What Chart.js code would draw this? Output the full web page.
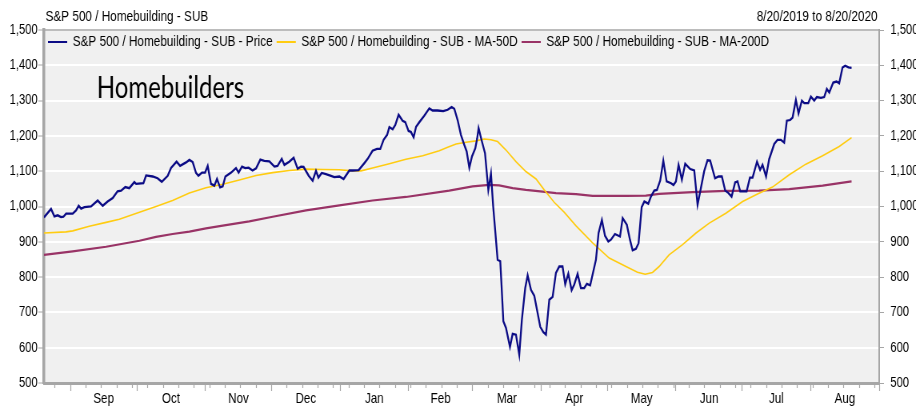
<!DOCTYPE html>
<html><head><meta charset="utf-8">
<script src="https://cdn.jsdelivr.net/npm/chart.js@4.4.1/dist/chart.umd.min.js"></script>
<style>html,body{margin:0;padding:0;background:#fff;overflow:hidden}</style>
</head><body>
<canvas id="c" width="1145" height="407" style="display:block;width:916px;height:407px"></canvas>
<script>
// ---------- DATA ----------
const chartTitle = 'S&P 500 / Homebuilding - SUB';
const dateRangeText = '8/20/2019 to 8/20/2020';
const annotationText = 'Homebuilders';
const seriesNames = ['S&P 500 / Homebuilding - SUB - Price', 'S&P 500 / Homebuilding - SUB - MA-50D', 'S&P 500 / Homebuilding - SUB - MA-200D'];
// x values are calendar days since 8/20/2019
const monthLabels = ['Sep','Oct','Nov','Dec','Jan','Feb','Mar','Apr','May','Jun','Jul','Aug'];
const monthStartDays = [12,42,73,103,134,165,194,225,255,286,316,347,378];
const firstSundayDay = 5;
const xMinDay = 0, xMaxDay = 378;
const yMin = 500, yMax = 1500, yStep = 100;

const priceDays = [0,3.2,4.7,6.2,7.7,8.8,10,13,14.5,15.7,16.8,18.3,21.3,24.3,26.6,28.8,31.1,33.3,34.9,36.8,38.6,40.9,41.7,45,46.2,49.2,51.4,53.3,56,57.5,60,61.6,64.3,65.8,67.3,68.8,69.9,71.5,72.9,74.1,75.6,77.1,78.3,79.7,80.9,82.1,84.7,86.9,88.1,89.6,91.1,92.6,94.4,96,97.9,99.7,102,104.3,105.7,107.6,108.8,111,113,114.8,116.3,117.5,119.8,121.6,123.1,124.2,125.7,127.6,129.9,131.4,133.7,135.6,138.2,139.7,142.4,145,146.5,148.7,150.7,152.2,153.7,155.3,156.3,157.8,159,160.5,162.3,163.5,165,166.1,167.3,168.4,169.9,172.1,174.4,175.9,178.1,180.7,182.7,184.5,185.7,187.2,188.7,190.2,191.3,192.5,193.7,195.2,196,196.7,198,199.6,201.1,202.3,203.3,204.3,205.3,206.5,207.1,207.9,209.1,210.9,212.1,213.6,215.1,216.3,217.8,218.9,220.4,221.9,223.1,224.6,226,227.2,228.7,230.2,231.7,233.2,234.7,235.9,237.3,238.8,240,241.5,243,244.5,245.7,247.2,249.8,251,252.5,253.9,255.4,256.6,258.4,260.7,261.9,263.8,265.2,266.4,267.9,269.1,270.5,271.7,273.5,274.7,276.2,277.4,278.9,280.3,281.8,283.8,284.9,286,287.2,288.7,290.2,292.5,294.3,295.8,297.3,298.8,300.3,301.5,303.7,305.3,306.8,308.3,309.8,311.2,312.8,313.9,315.1,318,319.5,320.7,322.7,324.1,325.2,326.8,328.2,330.5,332,333.5,335,336.2,337.7,338.8,340.3,341.5,343,344.1,345.9,347.1,348.6,349.8,351.6,353.1,354.3,355.4,357.2,358.7,359.9,361.4,362.6,364.1,365.5];
const priceValues = [969,993,972,975,970,971,980,980,989,1002,994,998,1000,1017,1002,1014,1024,1043,1045,1055,1052,1069,1064,1066,1088,1085,1080,1070,1087,1109,1127,1115,1125,1132,1126,1095,1087,1096,1096,1115,1064,1059,1078,1054,1057,1085,1096,1109,1096,1113,1109,1110,1102,1108,1133,1129,1128,1113,1115,1135,1118,1127,1138,1107,1113,1112,1087,1073,1101,1082,1095,1092,1087,1083,1085,1078,1102,1102,1103,1123,1135,1158,1163,1163,1189,1203,1225,1219,1231,1260,1243,1239,1214,1211,1196,1226,1239,1257,1278,1272,1272,1270,1274,1282,1277,1245,1203,1175,1156,1110,1142,1165,1191,1222,1189,1151,1047,1093,1000,925,849,845,774,675,656,602,639,637,580,680,769,805,764,747,708,659,644,637,736,744,812,830,830,780,810,763,779,809,769,769,781,777,849,925,962,917,901,906,922,915,967,948,906,876,880,896,998,1014,1008,1028,1045,1047,1074,1130,1071,1066,1061,1071,1118,1076,1121,1106,1102,1005,1052,1100,1131,1130,1080,1085,1085,1045,1038,1028,1068,1071,1043,1043,1082,1082,1127,1104,1118,1085,1134,1177,1189,1189,1181,1243,1245,1252,1302,1264,1300,1293,1293,1311,1300,1310,1308,1310,1333,1323,1351,1354,1349,1394,1399,1394,1393];

const ma50Days = [0,10,13,20.5,28.1,34.1,43.2,50.7,58.2,65.8,73.3,80.9,88.4,96,103.5,111,118.6,126.1,133.7,139.7,143.5,148.7,156.3,163.8,171.4,178.9,182.7,186.5,191,195.5,199.3,202.3,205.3,209.1,213.6,218.1,222.7,226.4,230.9,235.4,240.8,248.3,255.8,263.4,268.6,272.1,275.4,278.4,282.9,289,295.1,301.1,308.6,316.2,322.7,329.7,337.3,344.8,352.4,359.9,365.5];
const ma50Values = [925,928,931,944,955,964,984,1000,1017,1038,1053,1063,1075,1088,1096,1102,1106,1105,1104,1101,1101,1109,1121,1134,1144,1158,1168,1177,1182,1186,1191,1189,1184,1160,1127,1099,1078,1047,1012,984,945,897,854,830,814,808,813,830,863,892,925,953,981,1014,1035,1055,1090,1120,1144,1170,1195];

const ma200Days = [0,13,28.1,43.2,50.7,58.2,65.8,73.3,80.9,92.9,103.5,118.6,133.7,148.7,163.8,183.4,194,201.5,206,212.1,218.1,224.6,231.7,240.8,248.3,263.4,272.4,278.4,293.5,308.6,323.7,337.3,352.4,365.5];
const ma200Values = [863,873,886,903,914,922,929,938,946,958,971,989,1003,1017,1027,1045,1057,1061,1060,1052,1047,1043,1038,1035,1030,1030,1031,1036,1041,1044,1045,1049,1059,1071];

// ---------- STYLE ----------
// The canvas is drawn 1145px wide and displayed 916px wide (horizontally condensed look of the original).
const FONT = "'Liberation Sans', Arial, sans-serif";
const colors = ['#0b0b85', '#ffcc11', '#993366'];
const widths = [2.3, 1.6, 2.2];
const axisGray = '#a6a6a6';

const toPts = (xs, ys) => xs.map((d, i) => ({x: d, y: ys[i]}));

// build x ticks: month boundaries (major), weekly Sundays (minor), mid-month (labels)
const xTickDefs = [];
monthStartDays.forEach(d => xTickDefs.push({value: d, kind: 'major'}));
for (let d = firstSundayDay; d <= xMaxDay; d += 7) {
  if (!monthStartDays.includes(d)) xTickDefs.push({value: d, kind: 'minor'});
}
monthLabels.forEach((m, i) => xTickDefs.push({value: (monthStartDays[i] + monthStartDays[i + 1]) / 2, kind: 'label', label: m}));
xTickDefs.sort((a, b) => a.value - b.value);
const tickKind = v => (xTickDefs.find(t => t.value === v) || {}).kind;

const decor = {
  id: 'decor',
  beforeDraw(chart) {
    const {ctx, chartArea: a} = chart;
    ctx.save();
    ctx.fillStyle = '#f0f0f0';
    ctx.fillRect(a.left, a.top, a.right - a.left, a.bottom - a.top);
    ctx.restore();
  },
  afterDraw(chart) {
    const {ctx, chartArea: a} = chart;
    ctx.save();
    ctx.strokeStyle = axisGray;
    ctx.lineWidth = 1.5;
    ctx.beginPath();
    ctx.moveTo(a.left, a.top); ctx.lineTo(a.right, a.top);
    ctx.stroke();
    ctx.fillStyle = '#000';
    ctx.textBaseline = 'middle';
    ctx.font = "14.7px " + FONT;
    ctx.textAlign = 'left';
    ctx.fillText(chartTitle, a.left + 2, 17);
    ctx.textAlign = 'right';
    ctx.fillText(dateRangeText, a.right - 2, 17);
    // legend row inside the plot area
    ctx.textAlign = 'left';
    let x = a.left + 5;
    const ly = a.top + 12;
    chart.data.datasets.forEach(ds => {
      ctx.fillStyle = ds.borderColor;
      ctx.fillRect(x, ly - 1, 24, 2);
      x += 31;
      ctx.fillStyle = '#000';
      ctx.fillText(ds.label, x, ly);
      x += ctx.measureText(ds.label).width + 5;
    });
    ctx.font = "30px Lato, 'Liberation Sans', sans-serif";
    ctx.fillText(annotationText, 121, 88);
    ctx.restore();
  }
};

new Chart(document.getElementById('c'), {
  type: 'line',
  data: {
    datasets: [
      {label: seriesNames[0], data: toPts(priceDays, priceValues), order: 1},
      {label: seriesNames[1], data: toPts(ma50Days, ma50Values), order: 2},
      {label: seriesNames[2], data: toPts(ma200Days, ma200Values), order: 3}
    ].map((d, i) => Object.assign(d, {borderColor: colors[i], backgroundColor: colors[i], borderWidth: widths[i], pointRadius: 0, tension: 0, fill: false}))
  },
  options: {
    responsive: false, animation: false, devicePixelRatio: 1,
    layout: {padding: {top: 30, left: 0, right: 0, bottom: 0}},
    plugins: {
      tooltip: {enabled: false},
      title: {display: false},
      legend: {display: false}
    },
    scales: {
      x: {
        type: 'linear', min: xMinDay, max: xMaxDay,
        afterBuildTicks(scale) { scale.ticks = xTickDefs.map(t => ({value: t.value})); },
        afterFit(scale) { scale.height = 24; },
        ticks: {
          autoSkip: false, maxRotation: 0, minRotation: 0, padding: -1,
          font: {size: 14.5, family: FONT}, color: '#000',
          callback(v) { const t = xTickDefs.find(q => q.value === v); return t && t.kind === 'label' ? t.label : ''; }
        },
        grid: {
          drawOnChartArea: false, tickLength: 8,
          tickColor: ctx => (ctx.tick && tickKind(ctx.tick.value) === 'label') ? 'rgba(0,0,0,0)' : axisGray,
          tickBorderDash: ctx => (ctx.tick && tickKind(ctx.tick.value) === 'minor') ? [3, 20] : [],
          tickWidth: 1.2
        },
        border: {color: axisGray, width: 3}
      },
      y: {
        position: 'left', min: yMin, max: yMax,
        afterFit(scale) { scale.width = 55; },
        ticks: {stepSize: yStep, padding: 1, font: {size: 14, family: FONT}, color: '#000',
          callback: v => v.toLocaleString('en-US')},
        grid: {color: '#ffffff', lineWidth: 2, tickLength: 7, tickColor: axisGray, tickWidth: 1},
        border: {color: axisGray, width: 3.5}
      },
      y2: {
        position: 'right', min: yMin, max: yMax,
        afterFit(scale) { scale.width = 46; },
        ticks: {stepSize: yStep, padding: 8, font: {size: 14, family: FONT}, color: '#000',
          callback: v => v.toLocaleString('en-US')},
        grid: {drawOnChartArea: false, tickLength: 6, tickColor: axisGray, tickWidth: 1},
        border: {color: axisGray, width: 2}
      }
    }
  },
  plugins: [decor]
});
</script>
</body></html>
